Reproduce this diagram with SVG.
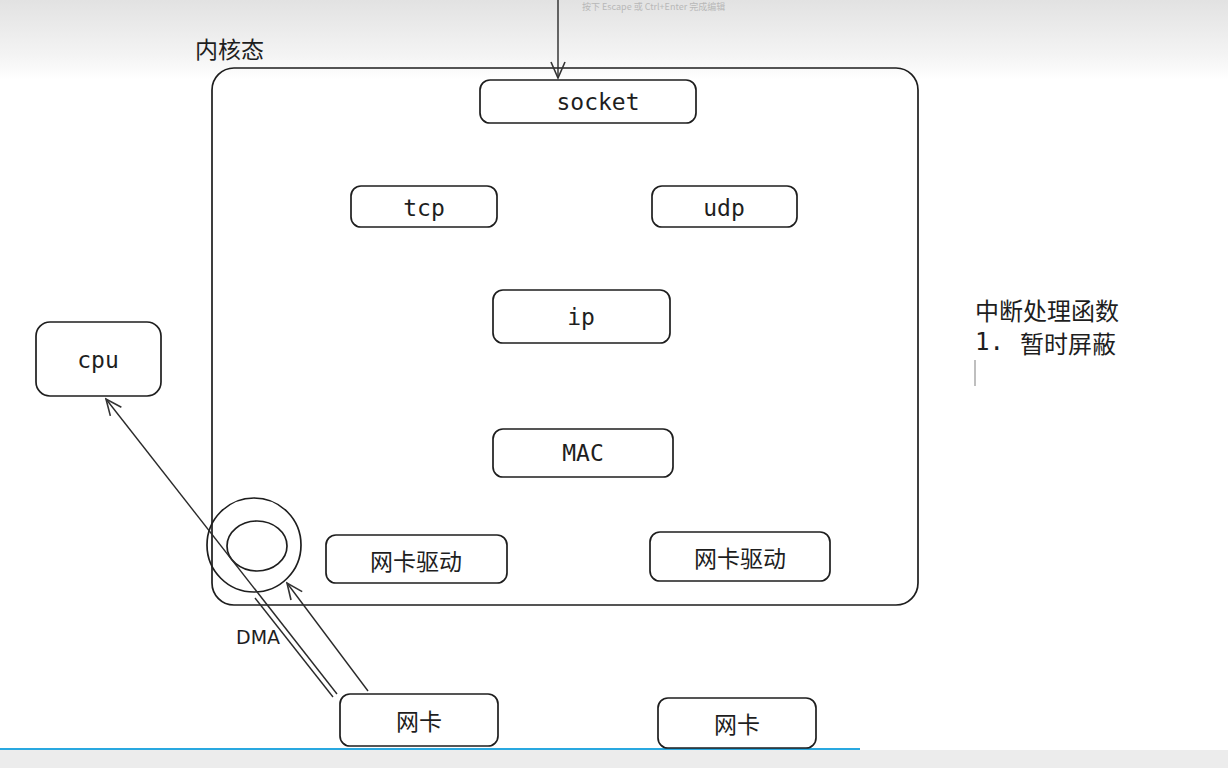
<svg xmlns="http://www.w3.org/2000/svg" width="1228" height="768" viewBox="0 0 1228 768">
<defs>
<linearGradient id="topbg" x1="0" y1="0" x2="0" y2="1">
<stop offset="0" stop-color="#e2e2e2"/>
<stop offset="0.7" stop-color="#f4f4f4"/>
<stop offset="1" stop-color="#ffffff"/>
</linearGradient>
<marker id="arr" viewBox="0 0 20 20" refX="18" refY="10" markerWidth="20" markerHeight="20" markerUnits="userSpaceOnUse" orient="auto">
<path d="M2,3 L18,10 L2,17" fill="none" stroke="#333" stroke-width="1.6"/>
</marker>
<style>
.box{fill:#fff;stroke:#1e1e1e;stroke-width:1.7}
.mono{font-family:"DejaVu Sans Mono","Liberation Mono",monospace;font-size:23px;fill:#1e1e1e;text-anchor:middle;dominant-baseline:central}
.cjk{font-family:"Noto Sans CJK SC","Noto Sans",sans-serif;font-size:23px;fill:#1e1e1e;text-anchor:middle;dominant-baseline:central}
.line{fill:none;stroke:#2a2a2a;stroke-width:1.4}
</style>
</defs>
<rect x="0" y="0" width="1228" height="768" fill="#ffffff"/>
<rect x="0" y="0" width="1228" height="80" fill="url(#topbg)"/>
<text x="582" y="10" font-family="Noto Sans CJK SC, sans-serif" font-size="9" fill="#b8b8b8">按下 Escape 或 Ctrl+Enter 完成编辑</text>
<rect x="0" y="750" width="1228" height="18" fill="#ececec"/>
<line x1="0" y1="749" x2="860" y2="749" stroke="#29a8e0" stroke-width="2"/>

<g id="kernel">
<text x="195" y="58" font-family="Noto Sans CJK SC, sans-serif" font-size="23" fill="#1e1e1e">内核态</text>
<rect x="212" y="68" width="706" height="537" rx="22" fill="none" stroke="#1e1e1e" stroke-width="1.7"/>
</g>

<g id="socket"><rect class="box" x="480" y="80" width="216" height="43" rx="10"/><text class="mono" x="598" y="102">socket</text></g>
<g id="tcp"><rect class="box" x="351" y="186" width="146" height="41" rx="10"/><text class="mono" x="424" y="208">tcp</text></g>
<g id="udp"><rect class="box" x="652" y="186" width="145" height="41" rx="10"/><text class="mono" x="724" y="208">udp</text></g>
<g id="ip"><rect class="box" x="493" y="290" width="177" height="53" rx="10"/><text class="mono" x="581" y="317">ip</text></g>
<g id="mac"><rect class="box" x="493" y="429" width="180" height="48" rx="10"/><text class="mono" x="583" y="453">MAC</text></g>
<g id="driver1"><rect class="box" x="326" y="535" width="181" height="48" rx="10"/><text class="cjk" x="416" y="560">网卡驱动</text></g>
<g id="driver2"><rect class="box" x="650" y="532" width="180" height="49" rx="10"/><text class="cjk" x="740" y="557">网卡驱动</text></g>
<g id="nic1"><rect class="box" x="340" y="694" width="158" height="52" rx="10"/><text class="cjk" x="419" y="720">网卡</text></g>
<g id="nic2"><rect class="box" x="658" y="698" width="158" height="50" rx="10"/><text class="cjk" x="737" y="723">网卡</text></g>
<g id="cpu"><rect class="box" x="36" y="322" width="125" height="74" rx="14"/><text class="mono" x="98" y="360">cpu</text></g>
<g id="ring">
<circle cx="254" cy="545" r="47" fill="none" stroke="#1e1e1e" stroke-width="1.7"/>
<ellipse cx="257" cy="546" rx="30" ry="25" fill="none" stroke="#1e1e1e" stroke-width="1.7"/>
</g>

<g id="connectors">
<line class="line" x1="558" y1="0" x2="558" y2="78" marker-end="url(#arr)"/>
<line class="line" x1="337" y1="694" x2="106" y2="399" marker-end="url(#arr)"/>
<line class="line" x1="333" y1="697" x2="255" y2="598"/>
<line class="line" x1="368" y1="691" x2="287" y2="583" marker-end="url(#arr)"/>
</g>

<text x="236" y="644" font-family="DejaVu Sans, sans-serif" font-size="19" fill="#1e1e1e">DMA</text>

<g id="note">
<text x="975" y="309" font-family="Noto Sans CJK SC, sans-serif" font-size="24" fill="#1e1e1e" dominant-baseline="central">中断处理函数</text>
<text x="975" y="342" font-family="Noto Sans CJK SC, sans-serif" font-size="24" fill="#1e1e1e" dominant-baseline="central"><tspan font-family="DejaVu Sans Mono, monospace">1.</tspan><tspan x="1020">暂时屏蔽</tspan></text>
<line x1="975" y1="360" x2="975" y2="386" stroke="#aaaaaa" stroke-width="1.5"/>
</g>
</svg>
